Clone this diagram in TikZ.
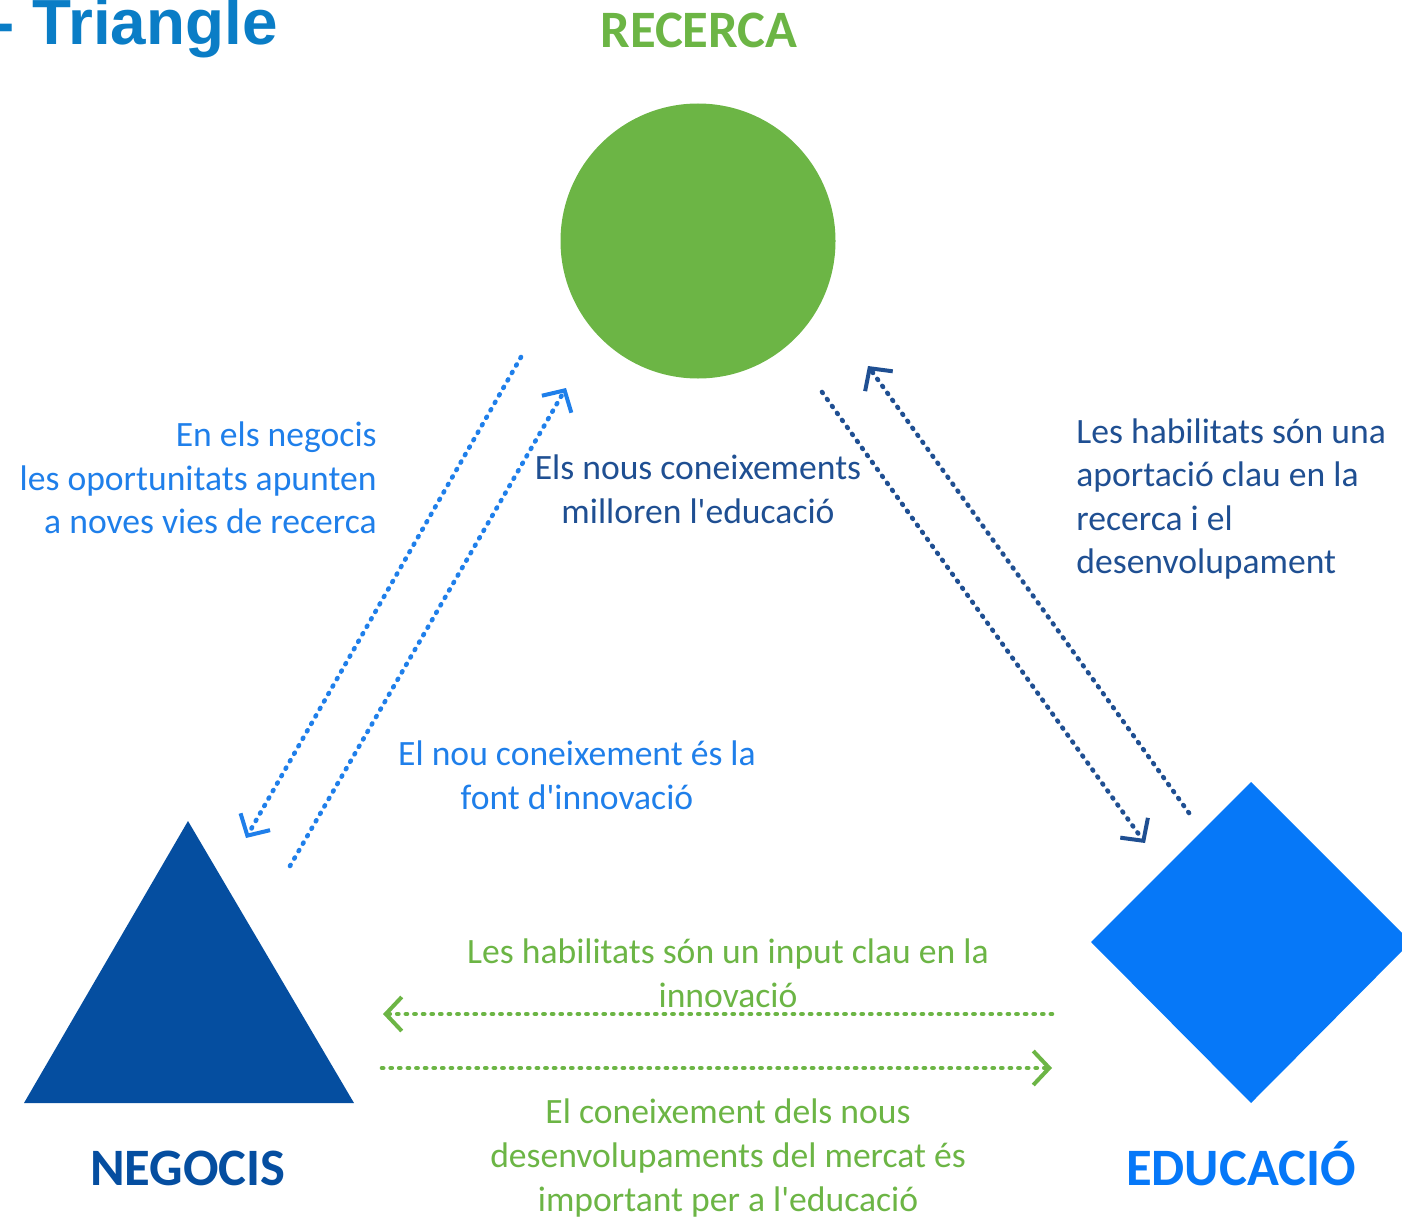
\documentclass[tikz,border=0pt]{standalone}
\usepackage{fontspec}
\setmainfont{Carlito}
\newfontfamily\titlefont{Liberation Sans}
\usetikzlibrary{arrows.meta}

\definecolor{recgreen}{HTML}{6CB545}
\definecolor{negblue}{HTML}{054EA0}
\definecolor{edublue}{HTML}{0678F8}
\definecolor{lightblue}{HTML}{1F7FEA}
\definecolor{darkblue}{HTML}{1F4F92}
\definecolor{titleblue}{HTML}{0A7DC6}

\begin{document}
\begin{tikzpicture}[x=0.5pt, y=-0.5pt,
	dotline/.style={line width=2.3pt, line cap=round, dash pattern=on 0.6pt off 3.7pt,
		-{Straight Barb[length=8pt, width=17pt, line width=2pt]}},
	txt/.style={inner sep=0pt, font=\fontsize{17.8}{21.8}\selectfont},
	head/.style={inner sep=0pt, anchor=base, font=\fontsize{26.3}{30}\selectfont\bfseries}]
	\useasboundingbox (0,0) rectangle (1402,1220);
	
	\node (title) at (278,45) [anchor=base east, inner sep=0pt, text=titleblue,
		font=\titlefont\fontsize{31.9}{36}\selectfont\bfseries] {- Triangle};
	
	% the three actors
	\node (recerca) at (698,241) [circle, fill=recgreen, minimum size=137.5pt, inner sep=0pt] {};
	\fill[negblue] (188,821) -- (354,1103) -- (24,1103) -- cycle;
	\fill[edublue] (1251,782) -- (1411,942) -- (1251,1103) -- (1091,942) -- cycle;
	
	\node (rlab) at (699,48) [head, text=recgreen] {RECERCA};
	\node (nlab) at (188,1185) [head, text=negblue] {NEGOCIS};
	\node (elab) at (1241,1185) [head, text=edublue] {EDUCACIÓ};
	
	% arrow ends
	\coordinate (nr1) at (521,357);
	\coordinate (nr2) at (246,838);
	\coordinate (nr3) at (290,866);
	\coordinate (nr4) at (566,388);
	\coordinate (re1) at (822,392);
	\coordinate (re2) at (1145,843);
	\coordinate (re3) at (1189,813);
	\coordinate (re4) at (868,366);
	\coordinate (ne1) at (1052,1014);
	\coordinate (ne2) at (383,1014);
	\coordinate (ne3) at (382,1068);
	\coordinate (ne4) at (1052,1068);
	
	\draw[dotline, lightblue] (nr1) -- (nr2);
	\draw[dotline, lightblue] (nr3) -- (nr4);
	\draw[dotline, darkblue] (re1) -- (re2);
	\draw[dotline, darkblue] (re3) -- (re4);
	\draw[dotline, recgreen] (ne1) -- (ne2);
	\draw[dotline, recgreen] (ne3) -- (ne4);
	
	% labels
	\node (t1) at (377,478) [txt, anchor=east, align=right, text=lightblue]
		{En els negocis\\les oportunitats apunten\\a noves vies de recerca};
	\node (t2) at (698,489) [txt, align=center, text=darkblue]
		{Els nous coneixements\\milloren l\textquotesingle educació};
	\node (t3) at (577,775) [txt, align=center, text=lightblue]
		{El nou coneixement és la\\font d\textquotesingle innovació};
	\node (t4) at (1076,499) [txt, anchor=west, align=left, text=darkblue]
		{Les habilitats són una\\aportació clau en la\\recerca i el\\desenvolupament};
	\node (t5) at (728,973) [txt, align=center, text=recgreen]
		{Les habilitats són un input clau en la\\innovació};
	\node (t6) at (728,1158) [txt, align=center, text=recgreen]
		{El coneixement dels nous\\desenvolupaments del mercat és\\important per a l\textquotesingle educació};
	
\end{tikzpicture}
\end{document}
